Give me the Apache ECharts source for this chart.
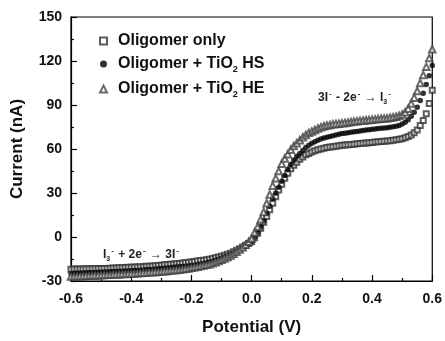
<!DOCTYPE html>
<html>
<head>
<meta charset="utf-8">
<script src="https://cdn.jsdelivr.net/npm/echarts@6/dist/echarts.min.js"></script>
<style>
  html, body { margin: 0; padding: 0; background: #fff; }
  #chart { width: 445px; height: 341px; }
</style>
</head>
<body>
<div id="chart"></div>
<script>
// potential (V), step 0.01 from -0.6 to 0.6
const potential = [
  -0.60, -0.59, -0.58, -0.57, -0.56, -0.55, -0.54, -0.53, -0.52, -0.51, -0.50,
  -0.49, -0.48, -0.47, -0.46, -0.45, -0.44, -0.43, -0.42, -0.41, -0.40,
  -0.39, -0.38, -0.37, -0.36, -0.35, -0.34, -0.33, -0.32, -0.31, -0.30,
  -0.29, -0.28, -0.27, -0.26, -0.25, -0.24, -0.23, -0.22, -0.21, -0.20,
  -0.19, -0.18, -0.17, -0.16, -0.15, -0.14, -0.13, -0.12, -0.11, -0.10,
  -0.09, -0.08, -0.07, -0.06, -0.05, -0.04, -0.03, -0.02, -0.01, 0.00,
  0.01, 0.02, 0.03, 0.04, 0.05, 0.06, 0.07, 0.08, 0.09, 0.10,
  0.11, 0.12, 0.13, 0.14, 0.15, 0.16, 0.17, 0.18, 0.19, 0.20,
  0.21, 0.22, 0.23, 0.24, 0.25, 0.26, 0.27, 0.28, 0.29, 0.30,
  0.31, 0.32, 0.33, 0.34, 0.35, 0.36, 0.37, 0.38, 0.39, 0.40,
  0.41, 0.42, 0.43, 0.44, 0.45, 0.46, 0.47, 0.48, 0.49, 0.50,
  0.51, 0.52, 0.53, 0.54, 0.55, 0.56, 0.57, 0.58, 0.59, 0.60
];
// Oligomer only (nA)
const oligomerOnly = [
  -22.0, -21.9, -21.9, -21.8, -21.8, -21.7, -21.7, -21.6, -21.6, -21.5, -21.5,
  -21.4, -21.4, -21.3, -21.2, -21.1, -21.0, -20.9, -20.8, -20.7, -20.6,
  -20.5, -20.4, -20.3, -20.2, -20.0, -19.9, -19.7, -19.6, -19.4, -19.2,
  -19.0, -18.8, -18.6, -18.4, -18.2, -18.0, -17.8, -17.5, -17.3, -17.0,
  -16.7, -16.4, -16.1, -15.8, -15.5, -15.1, -14.7, -14.2, -13.7, -13.1,
  -12.5, -11.8, -11.0, -10.1, -9.1, -8.0, -6.9, -5.7, -4.4, -3.0,
  -0.5, 2.5, 6.0, 10.0, 14.0, 18.5, 23.0, 27.5, 32.0, 36.0,
  40.0, 43.5, 46.5, 49.0, 51.0, 53.0, 54.5, 56.0, 57.0, 58.0,
  58.8, 59.5, 60.0, 60.5, 61.0, 61.3, 61.6, 61.9, 62.2, 62.5,
  62.7, 62.9, 63.1, 63.3, 63.5, 63.7, 63.9, 64.1, 64.3, 64.5,
  64.7, 64.9, 65.1, 65.3, 65.5, 65.7, 66.0, 66.3, 66.6, 67.0,
  67.7, 68.5, 69.5, 71.0, 73.0, 76.0, 79.5, 84.0, 91.0, 100.0
];
// Oligomer + TiO2 HS (nA)
const tio2HS = [
  -25.0, -24.9, -24.8, -24.7, -24.6, -24.5, -24.4, -24.3, -24.2, -24.1, -24.0,
  -23.9, -23.8, -23.7, -23.6, -23.5, -23.4, -23.3, -23.2, -23.1, -23.0,
  -22.9, -22.8, -22.6, -22.5, -22.4, -22.2, -22.1, -21.9, -21.7, -21.5,
  -21.3, -21.1, -20.9, -20.7, -20.5, -20.3, -20.1, -19.9, -19.7, -19.5,
  -19.2, -18.8, -18.4, -18.0, -17.5, -17.0, -16.5, -15.9, -15.2, -14.5,
  -13.7, -12.9, -12.0, -11.0, -10.0, -8.9, -7.7, -6.4, -4.8, -3.0,
  0.0, 3.0, 7.0, 11.0, 16.0, 21.0, 26.0, 30.0, 34.0, 38.0,
  42.0, 46.0, 49.5, 52.5, 55.0, 57.0, 59.0, 61.0, 62.5, 64.0,
  65.0, 66.0, 66.8, 67.5, 68.0, 68.6, 69.1, 69.6, 70.1, 70.5,
  70.8, 71.1, 71.4, 71.7, 72.0, 72.3, 72.6, 72.9, 73.2, 73.5,
  73.7, 73.9, 74.1, 74.3, 74.5, 74.8, 75.1, 75.5, 76.1, 77.0,
  78.3, 80.0, 82.3, 85.0, 88.5, 93.0, 98.0, 104.0, 110.0, 117.0
];
// Oligomer + TiO2 HE (nA)
const tio2HE = [
  -27.0, -26.9, -26.8, -26.7, -26.6, -26.5, -26.4, -26.3, -26.2, -26.1, -26.0,
  -25.9, -25.8, -25.7, -25.6, -25.5, -25.4, -25.3, -25.2, -25.1, -25.0,
  -24.9, -24.7, -24.6, -24.4, -24.3, -24.1, -24.0, -23.8, -23.7, -23.5,
  -23.3, -23.1, -22.9, -22.7, -22.5, -22.3, -22.0, -21.7, -21.4, -21.0,
  -20.6, -20.2, -19.8, -19.4, -19.0, -18.5, -17.9, -17.2, -16.4, -15.5,
  -14.6, -13.6, -12.6, -11.4, -10.0, -8.6, -7.0, -5.2, -3.2, -1.0,
  3.0, 7.0, 12.0, 17.0, 23.0, 29.0, 35.0, 40.0, 45.0, 50.0,
  53.5, 56.5, 59.5, 62.0, 64.0, 66.0, 68.0, 69.5, 71.0, 72.0,
  73.0, 74.0, 74.8, 75.5, 76.0, 76.4, 76.8, 77.1, 77.3, 77.5,
  77.8, 78.1, 78.4, 78.7, 79.0, 79.2, 79.4, 79.6, 79.8, 80.0,
  80.2, 80.4, 80.6, 80.8, 81.0, 81.3, 81.6, 82.0, 82.6, 83.5,
  85.0, 87.5, 91.0, 95.0, 99.5, 105.0, 110.5, 116.0, 122.0, 128.0
];
const seriesNames = ['Oligomer only', 'Oligomer + TiO2 HS', 'Oligomer + TiO2 HE'];
const xTicks = [-0.6, -0.4, -0.2, 0.0, 0.2, 0.4, 0.6];
const yTicks = [-30, 0, 30, 60, 90, 120, 150];

const FONT = '"Liberation Sans", Arial, sans-serif';

function pairs(ys) {
  return potential.map((x, i) => [x, ys[i]]);
}

const chart = echarts.init(document.getElementById('chart'));

const annoRich = {
  t: { fontFamily: FONT, fontSize: 12, fontWeight: 'bold', fill: '#222' },
  sup: { fontFamily: FONT, fontSize: 8, fontWeight: 'bold', fill: '#222', padding: [0, 1, 8, 1] },
  sub: { fontFamily: FONT, fontSize: 7, fontWeight: 'bold', fill: '#222', padding: [9, 0, 0, 0] }
};

const option = {
  animation: false,
  backgroundColor: '#fff',
  textStyle: { fontFamily: FONT },
  grid: {
    left: 71, right: 12, top: 17, bottom: 57,
    show: true, borderColor: '#000', borderWidth: 1.2, backgroundColor: 'transparent'
  },
  legend: {
    orient: 'vertical',
    left: 94, top: 28,
    itemGap: 7,
    itemWidth: 7, itemHeight: 7,
    textStyle: {
      fontFamily: FONT, fontSize: 16, fontWeight: 'bold', color: '#111',
      padding: [0, 0, 0, 6],
      rich: {
        b: { fontFamily: FONT, fontSize: 16, fontWeight: 'bold', color: '#111' },
        sub: { fontFamily: FONT, fontSize: 9, fontWeight: 'bold', color: '#111', padding: [11, 0, 0, 0] }
      }
    },
    formatter: name => {
      if (name.indexOf('TiO2') >= 0) {
        const parts = name.split('TiO2');
        return '{b|' + parts[0] + 'TiO}{sub|2}{b|' + parts[1] + '}';
      }
      return '{b|' + name + '}';
    },
    data: seriesNames
  },
  xAxis: {
    type: 'value',
    min: xTicks[0], max: xTicks[xTicks.length - 1], interval: 0.2,
    name: 'Potential (V)',
    nameLocation: 'middle', nameGap: 38,
    nameTextStyle: { fontFamily: FONT, fontSize: 17, fontWeight: 'bold', color: '#111' },
    axisLine: { onZero: false, lineStyle: { color: '#000', width: 1.2 } },
    axisTick: { inside: true, length: 6, lineStyle: { color: '#000', width: 1.2 } },
    minorTick: { show: true, splitNumber: 2, length: 3, lineStyle: { color: '#000', width: 1.2 } },
    axisLabel: {
      fontFamily: FONT, fontSize: 14, fontWeight: 'bold', color: '#111', margin: 11,
      formatter: v => v.toFixed(1)
    },
    splitLine: { show: false }
  },
  yAxis: {
    type: 'value',
    min: yTicks[0], max: yTicks[yTicks.length - 1], interval: 30,
    name: 'Current (nA)',
    nameLocation: 'middle', nameGap: 45,
    nameTextStyle: { fontFamily: FONT, fontSize: 17, fontWeight: 'bold', color: '#111' },
    axisLine: { onZero: false, lineStyle: { color: '#000', width: 1.2 } },
    axisTick: { inside: true, length: 6, lineStyle: { color: '#000', width: 1.2 } },
    minorTick: { show: true, splitNumber: 2, length: 3, lineStyle: { color: '#000', width: 1.2 } },
    axisLabel: { fontFamily: FONT, fontSize: 14, fontWeight: 'bold', color: '#111', margin: 9 },
    splitLine: { show: false }
  },
  series: [
    {
      name: seriesNames[0], type: 'scatter', data: pairs(oligomerOnly),
      symbol: 'emptyRect', symbolSize: 5,
      itemStyle: { color: '#333', borderWidth: 0.9 }
    },
    {
      name: seriesNames[1], type: 'scatter', data: pairs(tio2HS),
      symbol: 'circle', symbolSize: 5.5,
      itemStyle: { color: '#000' }
    },
    {
      name: seriesNames[2], type: 'scatter', data: pairs(tio2HE),
      symbol: 'emptyTriangle', symbolSize: 6.5,
      itemStyle: { color: '#444', borderWidth: 0.9 }
    }
  ],
  graphic: [
    {
      type: 'text', left: 318, top: 90,
      style: { text: '{t|3I}{sup|-}{t| - 2e}{sup|-}{t| \u2192 I}{sub|3}{sup|-}', rich: annoRich }
    },
    {
      type: 'text', left: 103, top: 247,
      style: { text: '{t|I}{sub|3}{sup|-}{t| + 2e}{sup|-}{t| \u2192 3I}{sup|-}', rich: annoRich }
    }
  ]
};

chart.setOption(option);
</script>
</body>
</html>
